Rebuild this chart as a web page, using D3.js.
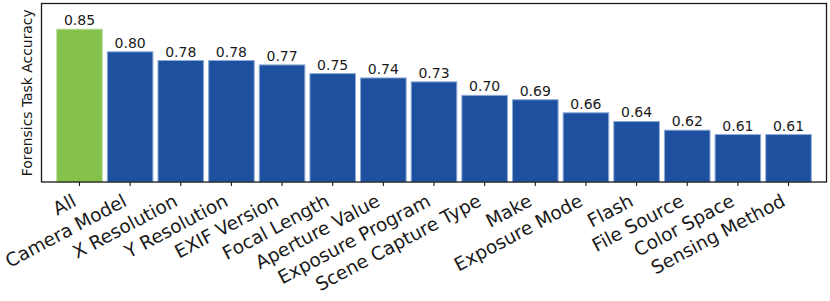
<!DOCTYPE html>
<html>
<head>
<meta charset="utf-8">
<script src="https://cdn.jsdelivr.net/npm/d3@7"></script>
<style>
  body { margin: 0; background: #fff; }
  text { font-family: "DejaVu Sans", sans-serif; fill: #1a1a1a; }
</style>
</head>
<body>
<svg id="chart"></svg>
<script>
// data
var features = ["All", "Camera Model", "X Resolution", "Y Resolution", "EXIF Version",
  "Focal Length", "Aperture Value", "Exposure Program", "Scene Capture Type", "Make",
  "Exposure Mode", "Flash", "File Source", "Color Space", "Sensing Method"];
var accuracy = [0.851, 0.799, 0.779, 0.779, 0.769, 0.749, 0.739, 0.730, 0.699, 0.689,
  0.659, 0.639, 0.619, 0.609, 0.609];
var yDomain = [0.5, 0.91];

var width = 830, height = 301;
var plotLeft = 41.5, plotRight = 826.5, plotTop = 3.5, plotBottom = 182;

var svg = d3.select("#chart")
  .attr("width", width)
  .attr("height", height);

var x = d3.scaleBand()
  .domain(features)
  .range([plotLeft, plotRight])
  .paddingInner(0.1)
  .paddingOuter(0.3);

var y = d3.scaleLinear()
  .domain(yDomain)
  .range([plotBottom, plotTop]);

// bars
svg.selectAll("rect.bar")
  .data(features)
  .enter()
  .append("rect")
  .attr("class", "bar")
  .attr("x", function(d) { return x(d); })
  .attr("y", function(d, i) { return y(accuracy[i]); })
  .attr("width", x.bandwidth())
  .attr("height", function(d, i) { return plotBottom - y(accuracy[i]); })
  .style("fill", function(d, i) { return i == 0 ? "#84c24c" : "#1d51a0"; })
  .style("stroke", function(d, i) { return i == 0 ? "#b9dc9a" : "#8eaad6"; })
  .style("stroke-width", 1);

// value labels
svg.selectAll("text.val")
  .data(features)
  .enter()
  .append("text")
  .attr("class", "val")
  .attr("x", function(d) { return x(d) + x.bandwidth() / 2; })
  .attr("y", function(d, i) { return y(accuracy[i]) - 4; })
  .attr("text-anchor", "middle")
  .style("font-size", "14px")
  .text(function(d, i) { return accuracy[i].toFixed(2); });

// x axis
var xAxis = d3.axisBottom(x).tickSize(4).tickSizeOuter(0);
var gx = svg.append("g")
  .attr("transform", "translate(0," + plotBottom + ")")
  .call(xAxis);
gx.select(".domain").remove();
gx.selectAll(".tick line").attr("stroke", "#1a1a1a").attr("stroke-width", 1.1);
gx.selectAll(".tick text")
  .attr("y", 0)
  .attr("dy", 0)
  .attr("text-anchor", "end")
  .attr("transform", "translate(-2,23) rotate(-28)")
  .style("font-size", "18.5px")
  .style("font-family", "DejaVu Sans")
  .attr("fill", "#1a1a1a");

// frame
svg.append("rect")
  .attr("x", plotLeft)
  .attr("y", plotTop)
  .attr("width", plotRight - plotLeft)
  .attr("height", plotBottom - plotTop)
  .style("fill", "none")
  .style("stroke", "#1a1a1a")
  .style("stroke-width", 1.3);

// y label
svg.append("text")
  .attr("transform", "translate(32," + ((plotTop + plotBottom) / 2) + ") rotate(-90)")
  .attr("text-anchor", "middle")
  .style("font-size", "13.9px")
  .text("Forensics Task Accuracy");
</script>
</body>
</html>
